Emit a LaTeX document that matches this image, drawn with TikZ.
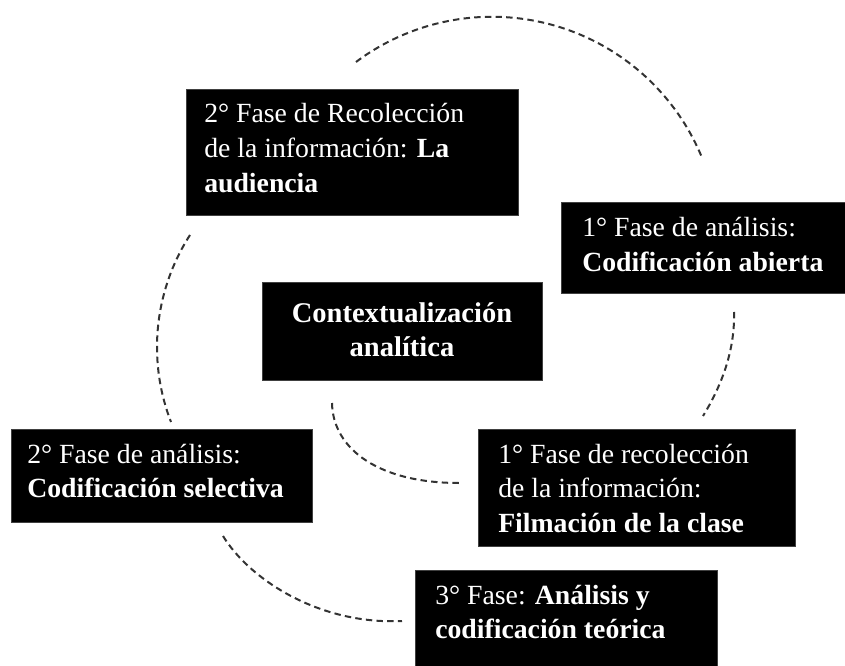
\documentclass[tikz,border=0pt]{standalone}
\usepackage{fontspec}
\setmainfont{Liberation Serif}
\begin{document}
\begin{tikzpicture}[x=0.75pt,y=-0.75pt,
  phasebox/.style={fill=black, draw=black!75, line width=0.4pt, inner sep=0pt, anchor=north west},
  phasetext/.style={text=white, inner sep=0pt, anchor=base west, font=\fontsize{20.8pt}{25.9pt}\selectfont},
  cyclearc/.style={draw=black!80, line width=1.5pt, dash pattern=on 4.8pt off 3.2pt}]
\useasboundingbox (0,0) rectangle (845,666);

% boxes
\node[phasebox, minimum width=249pt, minimum height=94.5pt] (A) at (186,89) {};
\node[phasebox, minimum width=213pt, minimum height=68.25pt] (B) at (561,202) {};
\node[phasebox, minimum width=210pt, minimum height=73.5pt] (C) at (262,282) {};
\node[phasebox, minimum width=225.75pt, minimum height=69.75pt] (D) at (11,429) {};
\node[phasebox, minimum width=237.75pt, minimum height=87.75pt] (E) at (478,429) {};
\node[phasebox, minimum width=226.5pt, minimum height=72pt] (F) at (415,570) {};

% texts
\node[phasetext] (tA) at (204,123) {\parbox[t]{300pt}{2° Fase de Recolección\\de la información: \textbf{La}\\\textbf{audiencia}}};
\node[phasetext] (tB) at (582,237) {\parbox[t]{300pt}{1° Fase de análisis:\\\textbf{Codificación abierta}}};
\node[phasetext, anchor=base, font=\fontsize{21.4pt}{25.9pt}\selectfont] (tC) at (402,322) {\parbox[t]{300pt}{\centering\textbf{Contextualización}\\\textbf{analítica}}};
\node[phasetext] (tD) at (27,463) {\parbox[t]{300pt}{2° Fase de análisis:\\\textbf{Codificación selectiva}}};
\node[phasetext] (tE) at (498,463) {\parbox[t]{300pt}{1° Fase de recolección\\de la información:\\\textbf{Filmación de la clase}}};
\node[phasetext] (tF) at (435,604) {\parbox[t]{300pt}{3° Fase: \textbf{Análisis y}\\\textbf{codificación teórica}}};

% dashed cycle arcs
\coordinate (a1) at (356,62);
\coordinate (l1) at (190,235);
\coordinate (r1) at (734,312);
\coordinate (r2) at (703,416);
\coordinate (i1) at (332,403);
\coordinate (i2) at (459,483);
\coordinate (b1) at (223,536);
\coordinate (b2) at (402,621);
\draw[cyclearc] (a1) arc[start angle=-126.8, end angle=-22.3, radius=227];
\draw[cyclearc] (l1) arc[start angle=-147.2, end angle=-201.2, radius=207];
\draw[cyclearc] (r1) .. controls (735,350) and (722,385) .. (r2);
\draw[cyclearc] (i1) .. controls (333,450) and (380,483) .. (i2);
\draw[cyclearc] (b1) .. controls (250,580) and (320,625) .. (b2);
\end{tikzpicture}
\end{document}
